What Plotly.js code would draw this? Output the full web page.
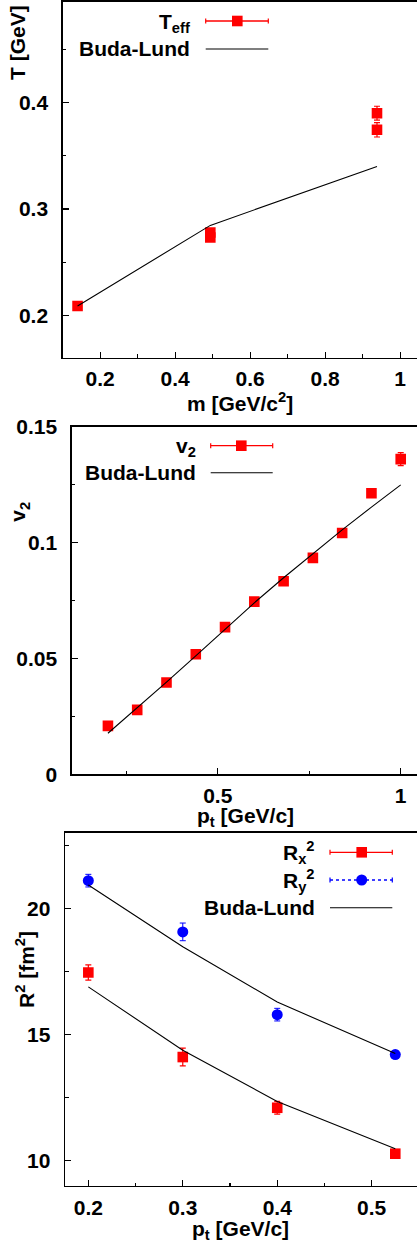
<!DOCTYPE html>
<html>
<head>
<meta charset="utf-8">
<script src="https://cdn.plot.ly/plotly-3.0.1.min.js"></script>
<style>html,body{margin:0;padding:0;background:#fff;}#plot{width:417px;height:1243px;}</style>
</head>
<body>
<div id="plot"></div>
<script>
// ---------- Panel 1: effective temperature vs mass ----------
const mass = [0.1396, 0.4937, 0.4937, 0.9383, 0.9383];
const tEff = [0.2086, 0.2778, 0.2731, 0.3901, 0.3745];
const tEffErr = [0.002, 0.002, 0.002, 0.0065, 0.0068];
const budaMass = [0.1396, 0.4937, 0.9383];
const budaT = [0.2087, 0.2845, 0.3400];
const p1xTicks = [0.2, 0.4, 0.6, 0.8, 1];
const p1xLabels = ['0.2', '0.4', '0.6', '0.8', '1'];
const p1xMinor = [0.3, 0.5, 0.7, 0.9];
const p1yTicks = [0.2, 0.3, 0.4];
const p1yLabels = ['0.2', '0.3', '0.4'];
const p1yMinor = [0.25, 0.35, 0.45];

// ---------- Panel 2: elliptic flow vs pt ----------
const ptV2 = [0.2, 0.28, 0.36, 0.44, 0.52, 0.6, 0.68, 0.76, 0.84, 0.92, 1.0];
const v2 = [0.0209, 0.0278, 0.0396, 0.0518, 0.0635, 0.0745, 0.0833, 0.0934, 0.1041, 0.1213, 0.136];
const v2Err = [0.0005, 0.0005, 0.0005, 0.0005, 0.0005, 0.0005, 0.0005, 0.0006, 0.0007, 0.001, 0.0028];
const budaV2 = [0.0177, 0.0286, 0.0398, 0.0511, 0.0626, 0.0740, 0.0848, 0.0953, 0.1055, 0.1153, 0.1249];
const p2xTicks = [0.5, 1];
const p2xLabels = ['0.5', '1'];
const p2xMinor = [0.25, 0.75];
const p2yTicks = [0, 0.05, 0.1, 0.15];
const p2yLabels = ['0', '0.05', '0.1', '0.15'];
const p2yMinor = [0.025, 0.075, 0.125];

// ---------- Panel 3: HBT radii vs pt ----------
const ptR = [0.2, 0.3, 0.4, 0.525];
const rx2 = [17.46, 14.11, 12.10, 10.28];
const rx2Err = [0.3, 0.35, 0.25, 0.15];
const ry2 = [21.10, 19.07, 15.79, 14.21];
const ry2Err = [0.25, 0.35, 0.25, 0.15];
const budaRx2 = [16.89, 14.38, 12.35, 10.48];
const budaRy2 = [20.93, 18.48, 16.29, 14.25];
const p3xTicks = [0.2, 0.3, 0.4, 0.5];
const p3xLabels = ['0.2', '0.3', '0.4', '0.5'];
const p3xMinor = [0.25, 0.35, 0.45];
const p3yTicks = [10, 15, 20];
const p3yLabels = ['10', '15', '20'];
const p3yMinor = [12.5, 17.5, 22.5];

// ---------- layout helpers ----------
const W = 417, H = 1243;
const px = x => x / W;
const py = y => 1 - y / H;
const FONT = 'Liberation Sans, Arial, Helvetica, sans-serif';
const bold = (s) => ({family: FONT, size: s, color: '#000', weight: 'bold'});

function axis(extra, tv, tt, minor) {
  return Object.assign({
    showline: true, linecolor: '#000', linewidth: 1.4,
    ticks: 'inside', ticklen: 6, tickwidth: 1.2, tickcolor: '#000',
    showgrid: false, zeroline: false, fixedrange: true,
    tickmode: 'array', tickvals: tv, ticktext: tt,
    tickfont: bold(21),
    minor: {tickmode: 'array', tickvals: minor, ticks: 'inside', ticklen: 3.5, tickwidth: 1.1, tickcolor: '#000', showgrid: false}
  }, extra);
}

const RED = '#ff0000', BLUE = '#0000ff';

const traces = [
  {x: mass, y: tEff, xaxis: 'x', yaxis: 'y', type: 'scatter', mode: 'markers',
   marker: {symbol: 'square', size: 10.6, color: RED, line: {width: 0}},
   error_y: {type: 'data', array: tEffErr, visible: true, color: RED, thickness: 1.2, width: 3}},
  {x: budaMass, y: budaT, xaxis: 'x', yaxis: 'y', type: 'scatter', mode: 'lines',
   line: {color: '#000', width: 1.1}},

  {x: ptV2, y: v2, xaxis: 'x2', yaxis: 'y2', type: 'scatter', mode: 'markers',
   marker: {symbol: 'square', size: 10.6, color: RED, line: {width: 0}},
   error_y: {type: 'data', array: v2Err, visible: true, color: RED, thickness: 1.2, width: 3}},
  {x: ptV2, y: budaV2, xaxis: 'x2', yaxis: 'y2', type: 'scatter', mode: 'lines',
   line: {color: '#000', width: 1.1}},

  {x: ptR, y: rx2, xaxis: 'x3', yaxis: 'y3', type: 'scatter', mode: 'markers',
   marker: {symbol: 'square', size: 10.6, color: RED, line: {width: 0}},
   error_y: {type: 'data', array: rx2Err, visible: true, color: RED, thickness: 1.2, width: 3}},
  {x: ptR, y: ry2, xaxis: 'x3', yaxis: 'y3', type: 'scatter', mode: 'markers',
   marker: {symbol: 'circle', size: 11, color: BLUE, line: {width: 0}},
   error_y: {type: 'data', array: ry2Err, visible: true, color: BLUE, thickness: 1, width: 3}},
  {x: ptR, y: budaRx2, xaxis: 'x3', yaxis: 'y3', type: 'scatter', mode: 'lines',
   line: {color: '#000', width: 1.1}},
  {x: ptR, y: budaRy2, xaxis: 'x3', yaxis: 'y3', type: 'scatter', mode: 'lines',
   line: {color: '#000', width: 1.1}}
];

// legend keys (decoration in paper coordinates)
function errKey(x0, x1, y, color, dash, shapes) {
  shapes.push({type: 'line', xref: 'paper', yref: 'paper', x0: px(x0), x1: px(x1), y0: py(y), y1: py(y),
               line: {color: color, width: 1.3, dash: dash}});
  [x0, x1].forEach(xx => shapes.push({type: 'line', xref: 'paper', yref: 'paper', x0: px(xx), x1: px(xx),
               y0: py(y - 2.5), y1: py(y + 2.5), line: {color: color, width: 1.2}}));
}
function squareKey(xc, yc, shapes) {
  shapes.push({type: 'rect', xref: 'paper', yref: 'paper', x0: px(xc - 5.3), x1: px(xc + 5.3),
               y0: py(yc + 5.3), y1: py(yc - 5.3), fillcolor: RED, line: {width: 0}});
}
function circleKey(xc, yc, shapes) {
  shapes.push({type: 'circle', xref: 'paper', yref: 'paper', x0: px(xc - 5.5), x1: px(xc + 5.5),
               y0: py(yc + 5.5), y1: py(yc - 5.5), fillcolor: BLUE, line: {width: 0}});
}
function lineKey(x0, x1, y, shapes) {
  shapes.push({type: 'line', xref: 'paper', yref: 'paper', x0: px(x0), x1: px(x1), y0: py(y), y1: py(y),
               line: {color: '#000', width: 1.1}});
}
const shapes = [];
errKey(205.7, 268.3, 21, RED, 'solid', shapes); squareKey(237.3, 21, shapes);
lineKey(205.7, 268.3, 49, shapes);
errKey(210.7, 272.7, 445.7, RED, 'solid', shapes); squareKey(241.3, 445.7, shapes);
lineKey(210.7, 272.7, 472.7, shapes);
errKey(330, 392.3, 852.3, RED, 'solid', shapes); squareKey(361.7, 852.3, shapes);
errKey(330, 392.3, 880, BLUE, 'dot', shapes); circleKey(361.7, 880, shapes);
lineKey(330, 392.3, 907.7, shapes);

function label(text, x, y, xanchor, angle) {
  return {xref: 'paper', yref: 'paper', x: px(x), y: py(y), text: text, showarrow: false,
          xanchor: xanchor || 'center', yanchor: 'middle', textangle: angle || 0, font: bold(21)};
}
const annotations = [
  label('T<sub>eff</sub>', 192, 23, 'right'),
  label('Buda-Lund', 192, 49, 'right'),
  label('T [GeV]', 17.5, 42.5, 'center', -90),
  label('m [GeV/c<sup>2</sup>]', 240, 402, 'center'),

  label('v<sub>2</sub>', 197.7, 447, 'right'),
  label('Buda-Lund', 197.7, 472.7, 'right'),
  label('v<sub>2</sub>', 19, 511.7, 'center', -90),
  label('p<sub>t</sub> [GeV/c]', 245, 817, 'center'),

  label('R<sub>x</sub><sup>2</sup>', 316.7, 852.3, 'right'),
  label('R<sub>y</sub><sup>2</sup>', 316.7, 880, 'right'),
  label('Buda-Lund', 316.7, 907.7, 'right'),
  label('R<sup>2</sup> [fm<sup>2</sup>]', 25, 970, 'center', -90),
  label('p<sub>t</sub> [GeV/c]', 241, 1230, 'center')
];

const layout = {
  width: W, height: H, margin: {l: 0, r: 0, t: 0, b: 0},
  paper_bgcolor: '#fff', plot_bgcolor: '#fff', showlegend: false,
  xaxis: axis({domain: [px(62.7), 1], range: [0.1, 1.045], mirror: true, anchor: 'y', ticklabelstandoff: 2}, p1xTicks, p1xLabels, p1xMinor),
  yaxis: axis({domain: [py(357.7), py(1.7)], range: [0.16, 0.495], anchor: 'x', ticklabelstandoff: 9}, p1yTicks, p1yLabels, p1yMinor),
  xaxis2: axis({domain: [px(71.7), 1], range: [0.101, 1.0445], mirror: true, anchor: 'y2', ticklabelstandoff: 2}, p2xTicks, p2xLabels, p2xMinor),
  yaxis2: axis({domain: [py(774.3), py(426.7)], range: [0, 0.15], anchor: 'x2', ticklabelstandoff: 9}, p2yTicks, p2yLabels, p2yMinor),
  xaxis3: axis({domain: [px(65), 1], range: [0.1753, 0.548], mirror: true, anchor: 'y3', ticklabelstandoff: 2}, p3xTicks, p3xLabels, p3xMinor),
  yaxis3: axis({domain: [py(1186), py(832.7)], range: [9, 23], anchor: 'x3', ticklabelstandoff: 9}, p3yTicks, p3yLabels, p3yMinor),
  shapes: shapes,
  annotations: annotations
};

Plotly.newPlot('plot', traces, layout, {displayModeBar: false, staticPlot: true});
</script>
</body>
</html>
